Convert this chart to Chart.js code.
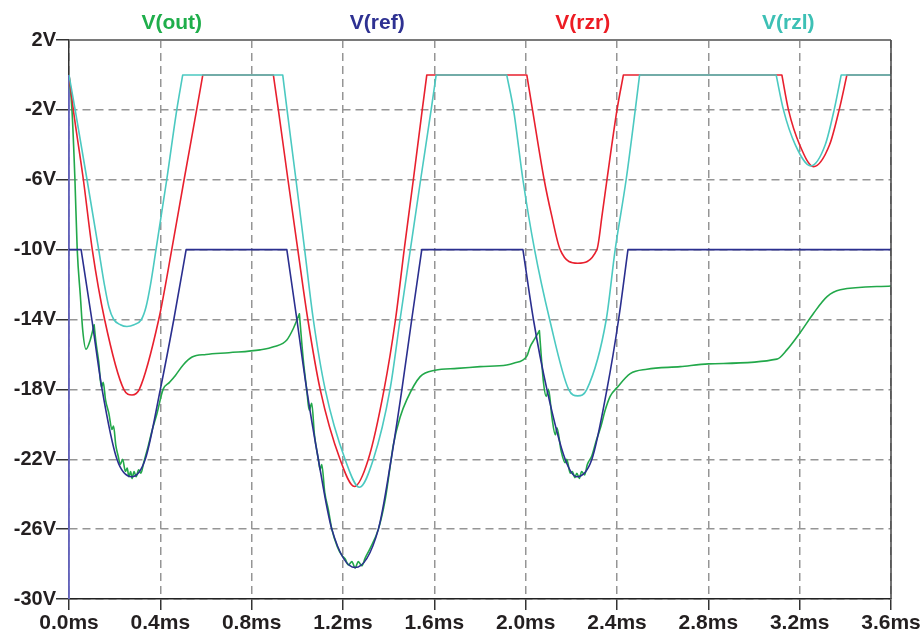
<!DOCTYPE html>
<html>
<head>
<meta charset="utf-8">
<script src="https://cdn.jsdelivr.net/npm/chart.js@4/dist/chart.umd.min.js"></script>
<style>
  html, body { margin: 0; padding: 0; background: #ffffff; }
  #wrap { width: 921px; height: 634px; }
</style>
</head>
<body>
<div id="wrap"><canvas id="c" width="921" height="634"></canvas></div>
<script>
// ---- Data (time in ms, voltage in V) ----
const seriesNames = ["V(out)", "V(ref)", "V(rzr)", "V(rzl)"];

const outT = [0, 0.013, 0.026, 0.036, 0.05, 0.06, 0.0745, 0.093, 0.11, 0.118, 0.13, 0.142, 0.15, 0.16, 0.175, 0.188, 0.195, 0.205, 0.215, 0.225, 0.235, 0.247, 0.255, 0.262, 0.27, 0.276, 0.285, 0.294, 0.305, 0.315, 0.327, 0.346, 0.365, 0.385, 0.412, 0.44, 0.466, 0.5, 0.539, 0.6, 0.7, 0.837, 0.9, 0.954, 0.983, 1.009, 1.026, 1.041, 1.052, 1.063, 1.075, 1.092, 1.1, 1.107, 1.12, 1.136, 1.151, 1.175, 1.195, 1.209, 1.224, 1.239, 1.253, 1.267, 1.282, 1.297, 1.319, 1.355, 1.385, 1.411, 1.42, 1.45, 1.479, 1.538, 1.603, 1.7, 1.8, 1.917, 1.947, 2.005, 2.02, 2.04, 2.06, 2.078, 2.09, 2.1, 2.115, 2.13, 2.137, 2.155, 2.173, 2.18, 2.195, 2.205, 2.215, 2.224, 2.235, 2.245, 2.258, 2.27, 2.29, 2.31, 2.33, 2.348, 2.37, 2.4, 2.458, 2.531, 2.677, 2.8, 3.1, 3.144, 3.2, 3.261, 3.32, 3.378, 3.6];
const outV = [0, -2, -6, -10, -12.7, -14.6, -15.7, -15.17, -14.3, -15.3, -16.4, -17.9, -17.6, -18.6, -19.4, -20.3, -20.1, -21.2, -21.8, -22.3, -22.0, -22.7, -22.5, -23.0, -22.7, -23.1, -22.7, -23.0, -22.6, -22.8, -22.2, -21.3, -20.3, -19.4, -18.0, -17.6, -17.2, -16.6, -16.15, -16.0, -15.9, -15.74, -15.55, -15.17, -14.5, -13.68, -16.3, -18.0, -19.2, -18.8, -20.6, -22.0, -22.6, -22.3, -23.9, -24.9, -26.0, -27.0, -27.5, -27.7, -28.05, -27.86, -28.23, -27.86, -28.1, -27.66, -27.1, -26.0, -24.3, -22.0, -21.2, -19.6, -18.6, -17.27, -16.9, -16.8, -16.7, -16.6, -16.5, -16.1, -15.55, -15.1, -14.64, -17.6, -18.4, -18.0, -19.6, -20.6, -20.2, -21.5, -22.2, -22.0, -22.8, -22.7, -23.05, -22.8, -23.1, -22.7, -22.9, -22.3, -21.8, -20.9, -20.1, -19.2, -18.4, -17.9, -17.1, -16.85, -16.7, -16.54, -16.27, -15.74, -14.79, -13.64, -12.69, -12.3, -12.08];
// sharp spikes of V(out) (times in ms)
const outSpikes = [0.11, 1.009, 2.06];

const refT = [0, 0.053, 0.1, 0.145, 0.21, 0.275, 0.334, 0.4, 0.459, 0.513, 0.954, 0.998, 1.041, 1.092, 1.151, 1.253, 1.355, 1.411, 1.458, 1.501, 1.545, 1.988, 2.034, 2.093, 2.173, 2.224, 2.29, 2.356, 2.407, 2.448, 3.6];
const refV = [-10, -10, -14, -18, -22, -23.0, -22, -18, -14, -10, -10, -14, -18, -22, -26, -28.2, -26, -22, -18, -14, -10, -10, -14, -18, -22, -23.0, -22, -18, -14, -10, -10];

const rzrT = [0, 0.019, 0.063, 0.102, 0.156, 0.24, 0.276, 0.308, 0.393, 0.45, 0.504, 0.559, 0.586, 0.895, 0.917, 0.959, 1.002, 1.046, 1.1, 1.187, 1.25, 1.311, 1.38, 1.43, 1.468, 1.508, 1.547, 1.567, 2.005, 2.03, 2.081, 2.113, 2.151, 2.228, 2.312, 2.335, 2.356, 2.4, 2.428, 3.122, 3.151, 3.2, 3.261, 3.331, 3.373, 3.407, 3.6];
const rzrV = [0, -2, -6, -10, -14, -18, -18.32, -18, -14, -10, -6, -2, 0, 0, -2, -6, -10, -14, -18, -22, -23.56, -22, -18, -14, -10, -6, -2, 0, 0, -2, -6, -8, -10, -10.78, -10, -8, -6, -2, 0, 0, -2, -4, -5.25, -4, -2, 0, 0];

const rzlT = [0, 0.027, 0.079, 0.13, 0.155, 0.175, 0.196, 0.225, 0.254, 0.285, 0.317, 0.337, 0.357, 0.381, 0.428, 0.472, 0.498, 0.936, 0.955, 0.994, 1.032, 1.07, 1.122, 1.209, 1.272, 1.333, 1.406, 1.45, 1.495, 1.54, 1.586, 1.608, 1.917, 1.947, 1.988, 2.039, 2.105, 2.188, 2.228, 2.268, 2.353, 2.392, 2.44, 2.48, 2.499, 3.097, 3.129, 3.181, 3.249, 3.312, 3.351, 3.382, 3.6];
const rzlV = [0, -2, -6, -10, -12, -13.3, -14, -14.3, -14.4, -14.3, -14, -13.3, -12, -10, -6, -2, 0, 0, -2, -6, -10, -14, -18, -22, -23.6, -22, -18, -14, -10, -6, -2, 0, 0, -2, -6, -10, -14, -18, -18.37, -18, -14, -10, -6, -2, 0, 0, -2, -4, -5.21, -4, -2, 0, 0];

// initial transient at t = 0 (vertical line along the left edge)
const startT = [0, 0];
const startV = [0, -30];

const yTicks = [2, -2, -6, -10, -14, -18, -22, -26, -30];
const xTicks = [0, 0.4, 0.8, 1.2, 1.6, 2.0, 2.4, 2.8, 3.2, 3.6];

const colors = ["#22a84a", "#2b2f8f", "#e8202e", "#4bc9c1"];
const labelColors = ["#1fae4b", "#2e3192", "#ed1c24", "#3dc0b5"];

// Build {x,y} points; at corners (flat <-> slope) and listed spikes the
// smooth curve is broken so the corner stays sharp (same point repeated).
function buildPoints(T, V, sharp) {
  const out = [];
  for (let i = 0; i < T.length; i++) {
    out.push({ x: T[i], y: V[i] });
    if (i === 0 || i === T.length - 1) continue;
    const flatBefore = V[i - 1] === V[i];
    const flatAfter = V[i + 1] === V[i];
    const isSharp = sharp && sharp.indexOf(T[i]) >= 0;
    if (flatBefore !== flatAfter || isSharp) {
      out.push({ x: T[i], y: null });
      out.push({ x: T[i], y: V[i] });
    }
  }
  return out;
}

const FONT = "'Liberation Sans', Arial, Helvetica, sans-serif";

const titlePlugin = {
  id: 'titles',
  afterDraw(chart) {
    const { ctx, chartArea } = chart;
    const w = chartArea.right - chartArea.left;
    ctx.save();
    ctx.setLineDash([]);
    ctx.strokeStyle = '#7a7a7a';
    ctx.lineWidth = 2;
    ctx.beginPath();
    ctx.moveTo(chartArea.left, chartArea.top);
    ctx.lineTo(chartArea.right, chartArea.top);
    ctx.stroke();
    ctx.strokeStyle = '#444';
    ctx.lineWidth = 1.5;
    ctx.beginPath();
    ctx.moveTo(chartArea.right, chartArea.top);
    ctx.lineTo(chartArea.right, chartArea.bottom);
    ctx.stroke();
    ctx.font = "bold 21px " + FONT;
    ctx.textAlign = 'center';
    ctx.textBaseline = 'alphabetic';
    seriesNames.forEach((n, i) => {
      ctx.fillStyle = labelColors[i];
      ctx.fillText(n, chartArea.left + (i + 0.5) * w / 4, 29);
    });
    ctx.restore();
  }
};

const common = {
  pointRadius: 0, borderWidth: 1.6, fill: false,
  cubicInterpolationMode: 'monotone', spanGaps: false,
  borderCapStyle: 'round', borderJoinStyle: 'round'
};

new Chart(document.getElementById('c'), {
  type: 'line',
  data: {
    datasets: [
      Object.assign({ label: seriesNames[0], data: buildPoints(outT, outV, outSpikes), borderColor: colors[0], order: 4 }, common),
      Object.assign({ label: seriesNames[1], data: buildPoints(refT, refV), borderColor: colors[1], order: 3 }, common),
      Object.assign({ label: seriesNames[2], data: buildPoints(rzrT, rzrV), borderColor: colors[2], order: 2 }, common),
      Object.assign({ label: seriesNames[3], data: buildPoints(rzlT, rzlV), borderColor: colors[3], order: 1 }, common),
      { label: 'start', data: startT.map((t, i) => ({ x: t, y: startV[i] })), borderColor: '#6f6fd6', borderWidth: 1.6, pointRadius: 0, tension: 0, order: 5, clip: false }
    ]
  },
  options: {
    responsive: false,
    animation: false,
    events: [],
    layout: { padding: { top: 40, right: 30, bottom: 0, left: 0 } },
    plugins: { legend: { display: false }, tooltip: { enabled: false } },
    scales: {
      x: {
        type: 'linear',
        min: 0, max: 3.6,
        afterBuildTicks: (s) => { s.ticks = xTicks.map(v => ({ value: v })); },
        afterFit: (s) => { s.height = 35; s.paddingLeft = 0; s.paddingRight = 0; },
        ticks: {
          autoSkip: false, maxRotation: 0, padding: 1,
          color: '#231f20',
          font: { family: FONT, size: 21, weight: 'bold' },
          callback: (v) => Number(v).toFixed(1) + 'ms'
        },
        grid: { color: '#959595', lineWidth: 1.5, tickLength: 11, tickColor: '#333', tickWidth: 1.5 },
        border: { display: true, color: '#222', width: 1.5, dash: [8, 5] }
      },
      y: {
        type: 'linear',
        min: -30, max: 2,
        afterBuildTicks: (s) => { s.ticks = yTicks.map(v => ({ value: v })); },
        afterFit: (s) => { s.width = 69; s.paddingTop = 0; s.paddingBottom = 0; },
        ticks: {
          autoSkip: false, padding: 0,
          color: '#231f20',
          font: { family: FONT, size: 20, weight: 'bold' },
          callback: (v) => v + 'V'
        },
        grid: { color: '#959595', lineWidth: 1.5, tickLength: 13, tickColor: '#333', tickWidth: 1.5 },
        border: { display: true, color: '#333', width: 1.5, dash: [8, 5] }
      }
    }
  },
  plugins: [titlePlugin]
});
</script>
</body>
</html>
